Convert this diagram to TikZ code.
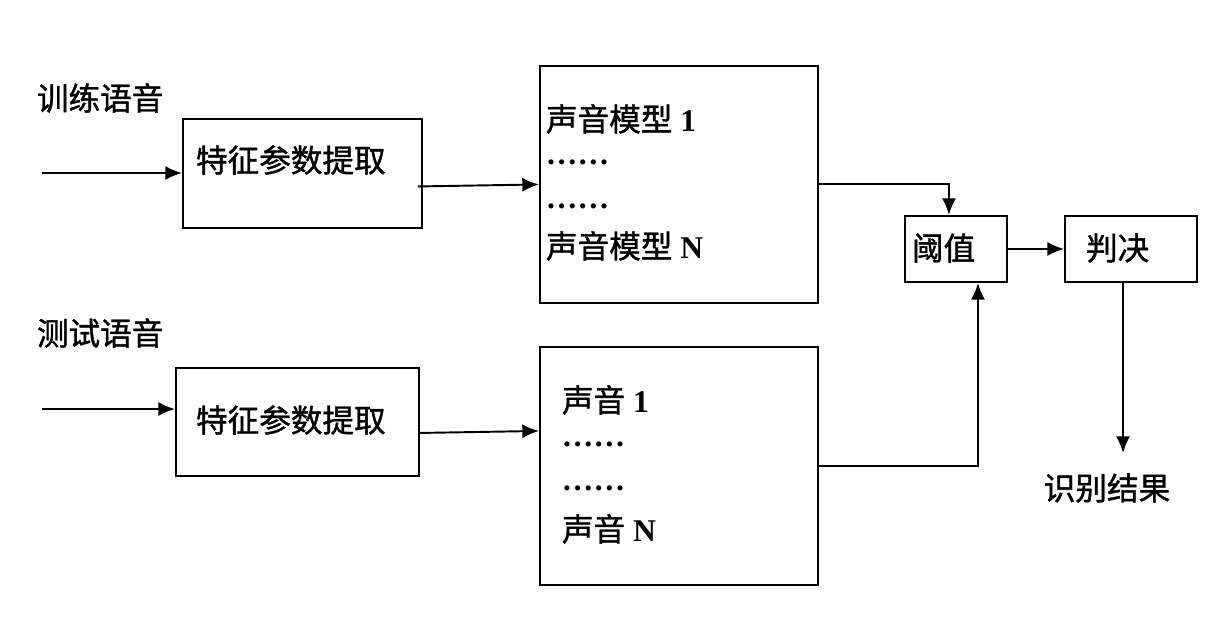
\documentclass[tikz,border=0pt]{standalone}
\usepackage{fontspec}
\setmainfont{Liberation Serif}
\newfontfamily\cjk{Noto Sans CJK SC}[FakeBold=1.2]
\usetikzlibrary{arrows.meta}

\begin{document}
\begin{tikzpicture}[x=0.02cm,y=-0.02cm,>={Latex[length=9.5pt,width=8pt]},
  box/.style={draw,line width=1.1pt,anchor=north west,inner sep=0},
  lbl/.style={font=\fontsize{18}{22}\selectfont\cjk,inner sep=0,anchor=west},
  line/.style={font=\fontsize{18}{22}\selectfont\bfseries,inner sep=0,anchor=base west},
  every path/.style={line width=1.1pt}]
\useasboundingbox (0,0) rectangle (1226,629);

% boxes
\node[box,minimum width=4.78cm,minimum height=2.18cm] (feat1) at (182,118) {};
\node[box,minimum width=4.86cm,minimum height=2.16cm] (feat2) at (175,367) {};
\node[box,minimum width=5.56cm,minimum height=4.74cm] (model) at (539,65) {};
\node[box,minimum width=5.56cm,minimum height=4.76cm] (test) at (539,346) {};
\node[box,minimum width=2.04cm,minimum height=1.32cm] (thresh) at (904,215) {};
\node[box,minimum width=2.64cm,minimum height=1.32cm] (decide) at (1064,215) {};

% labels
\node[lbl] (train) at (36,98) {训练语音};
\node[lbl] (testin) at (36,333) {测试语音};
\node[lbl] (feat1t) at (195,160) {特征参数提取};
\node[lbl] (feat2t) at (195,420) {特征参数提取};
\node[lbl] (thresht) at (911,248) {阈值};
\node[lbl] (decidet) at (1085,248) {判决};
\node[lbl,anchor=center] (result) at (1107,488) {识别结果};

\node[line] (m1) at (545,131) {{\cjk\mdseries 声音模型} 1};
\node[line] (m2) at (545,164) {……};
\node[line] (m3) at (545,208) {……};
\node[line] (m4) at (545,258) {{\cjk\mdseries 声音模型} N};

\node[line] (t1) at (561,412) {{\cjk\mdseries 声音} 1};
\node[line] (t2) at (561,446) {……};
\node[line] (t3) at (561,490) {……};
\node[line] (t4) at (561,541) {{\cjk\mdseries 声音} N};

% connectors
\coordinate (in1) at (42,173);
\coordinate (in2) at (42,409);
\coordinate (out) at (1123,453);
\draw[->] (in1) -- (in1 -| feat1.west);
\draw[->] (in2) -- (in2 -| feat2.west);
\draw[->] ([shift={(-5,13)}]feat1.east) -- (model.west);
\draw[->] ([shift={(0,11)}]feat2.east) -- ([shift={(0,-35)}]test.west);
\draw[->] (model.east) -| ([shift={(-7,0)}]thresh.north);
\draw[->] (test.east) -| ([shift={(22,0)}]thresh.south);
\draw[->] (thresh.east) -- (decide.west);
\draw[->] (decide.south -| out) -- (out);
\end{tikzpicture}
\end{document}
